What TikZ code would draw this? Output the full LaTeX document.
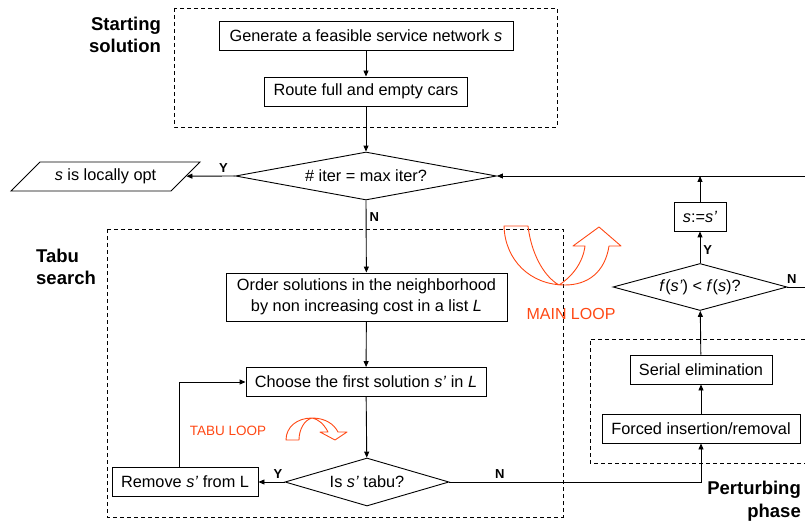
\documentclass[tikz,border=0pt]{standalone}
\usepackage{fontspec}
\setmainfont{Liberation Sans}
\usepackage{xcolor}
\usetikzlibrary{arrows.meta, positioning, shapes.geometric, calc}
\definecolor{loopred}{RGB}{255,72,20}

\begin{document}
\begin{tikzpicture}[
  x=1pt, y=-1pt,
  proc/.style={draw, line width=0.9pt, minimum height=29pt, inner sep=2pt, align=center, font=\fontsize{16.3}{20.5}\selectfont},
  decision/.style={diamond, draw, line width=0.9pt, inner sep=0pt, shape aspect=4, font=\fontsize{16.3}{20.5}\selectfont},
  outcome/.style={trapezium, trapezium left angle=37, trapezium right angle=143, trapezium stretches body, draw, line width=0.9pt, minimum height=29pt, font=\fontsize{16.3}{20.5}\selectfont},
  phase frame/.style={draw, line width=0.8pt, dash pattern=on 4pt off 3pt},
  phase label/.style={inner sep=0pt, font=\fontsize{18.5}{22.5}\selectfont\bfseries},
  yn/.style={font=\fontsize{13}{15}\selectfont\bfseries, inner sep=3pt},
  loop arrow/.style={draw=loopred, line width=0.9pt, line join=round},
  loop label/.style={text=loopred, inner sep=0pt},
  arr/.style={-{Triangle[length=6pt, width=5pt]}, line width=0.9pt},
]
\useasboundingbox (0,0) rectangle (805,521);

% phases
\draw[phase frame] (174,8) rectangle (557,127);
\draw[phase frame] (107,229) rectangle (563,517);
\draw[phase frame] (805,339) -- (590,339) -- (590,463) -- (805,463);
\node[phase label, align=right] (startlbl) at (125,35) {Starting\\solution};
\node[phase label, align=left, anchor=west] (tabulbl) at (36,267) {Tabu\\search};
\node[phase label, align=right, anchor=east] (pertlbl) at (801,501) {Perturbing\\phase};

% nodes
\node[proc, minimum width=294pt] (gen) at (366,35.5) {Generate a feasible service network \textit{s}};
\node[proc, minimum width=203pt] (route) at (366,91.5) {Route full and empty cars};
\node[decision, minimum width=261pt, minimum height=48pt] (iter) at (366,176) {\# iter = max iter?};
\node[outcome, minimum width=189pt] (opt) at (105.5,176.5) {\textit{s} is locally opt};
\node[proc, minimum width=281pt, minimum height=48pt] (order) at (366.5,297) {Order solutions in the neighborhood\\by non increasing cost in a list \textit{L}};
\node[proc, minimum width=240pt] (choose) at (366,382) {Choose the first solution \textit{s'} in \textit{L}};
\node[decision, minimum width=164pt, minimum height=48pt] (tabu) at (367,482) {Is \textit{s'} tabu?};
\node[proc, minimum width=146pt] (remove) at (185,482) {Remove \textit{s'} from L};
\node[proc, minimum width=198pt] (forced) at (701,428.5) {Forced insertion/removal};
\node[proc, minimum width=142pt] (serial) at (701,369.5) {Serial elimination};
\node[decision, minimum width=174pt, minimum height=47pt] (better) at (700,287) {\textit{f}(\textit{s'}) < \textit{f}(\textit{s})?};
\node[proc, minimum width=52pt] (assign) at (700,216.5) {\textit{s}:=\textit{s'}};
\coordinate (mainR) at (805,176);
\coordinate (noR) at (805,287);

% edges
\draw[arr] (gen) -- (route);
\draw[arr] (route) -- (iter);
\draw[arr] (iter.west) -- (opt) node[yn, pos=0.24, above] (yopt) {Y};
\draw[arr] (iter.south) -- (order) node[yn, pos=0.23, right] (niter) {N};
\draw[arr] (order) -- (choose);
\draw[arr] (choose) -- (tabu);
\draw[arr] (tabu.west) -- (remove) node[yn, pos=0.25, above] (ytabu) {Y};
\draw[arr] ([xshift=-6pt]remove.north) |- (choose.west);
\draw[arr] (tabu.east) -| (forced.south) node[yn, pos=0.1, above] (ntabu) {N};
\draw[arr] (forced) -- (serial);
\draw[arr] (serial) -- (better);
\draw[arr] (better.north) -- (assign) node[yn, pos=0.4, right] (ybetter) {Y};
\draw[arr] (assign.north) -- (assign.north |- mainR);
\draw[arr] (mainR) -- (iter.east);
\draw[line width=0.9pt] (better.east) -- (noR) node[yn, pos=0.25, above] (nbetter) {N};

% loops
\draw[loop arrow] (504,226) -- (528,226) .. controls (531,252) and (543,276) .. (559,285)
  .. controls (573,276) and (583,262) .. (585,246) -- (573,246) -- (599,227) -- (621,246) -- (609,246)
  .. controls (605,272) and (588,285) .. (565,285) .. controls (530,285) and (505,260) .. (504,226) -- cycle;
\node[loop label, font=\fontsize{16}{18}\selectfont] (mainloop) at (571,314) {MAIN LOOP};
\draw[loop arrow] (286,440) .. controls (286,427) and (297,418) .. (312,418) .. controls (325,418) and (334,424) .. (338,432)
  -- (347,432) -- (335,440) -- (320,432) -- (328,432) .. controls (324,424) and (318,419) .. (312,418)
  .. controls (304,420) and (299,430) .. (299,440) -- cycle;
\node[loop label, font=\fontsize{13.5}{16}\selectfont] (tabuloop) at (228,431) {TABU LOOP};
\end{tikzpicture}
\end{document}
